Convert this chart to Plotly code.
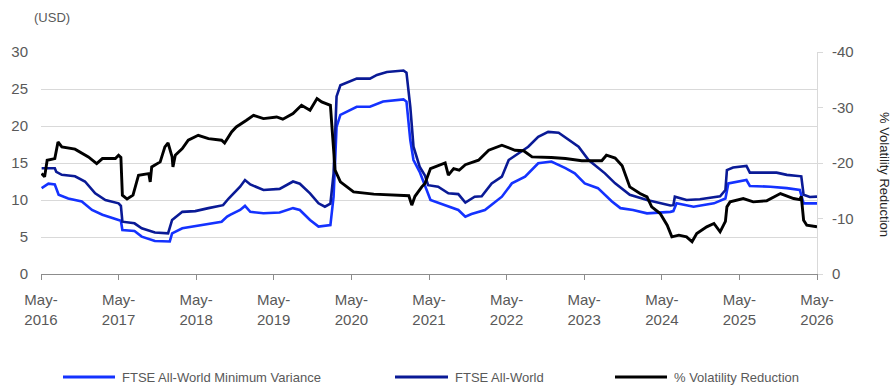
import plotly.graph_objects as go

# ---- data -------------------------------------------------------------
min_var_dates = [
    "2016-05-04", "2016-06-05", "2016-07-05", "2016-07-23", "2016-09-06", "2016-11-09",
    "2016-12-27", "2017-02-14", "2017-05-01", "2017-05-12", "2017-05-19", "2017-07-15",
    "2017-08-18", "2017-10-19", "2017-12-28", "2018-01-08", "2018-02-25", "2018-05-26",
    "2018-08-29", "2018-09-24", "2018-10-08", "2018-11-24", "2018-12-17", "2019-01-11",
    "2019-03-14", "2019-05-29", "2019-07-31", "2019-09-01", "2019-10-19", "2019-11-28",
    "2020-01-23", "2020-02-07", "2020-02-21", "2020-03-10", "2020-05-26", "2020-07-27",
    "2020-09-27", "2021-01-01", "2021-01-15", "2021-02-02", "2021-02-17", "2021-03-18",
    "2021-05-08", "2021-07-16", "2021-09-16", "2021-10-19", "2021-11-17", "2022-01-19",
    "2022-04-09", "2022-05-26", "2022-07-27", "2022-09-27", "2022-11-28", "2023-02-02",
    "2023-03-18", "2023-05-04", "2023-07-05", "2023-09-09", "2023-10-08", "2023-10-19",
    "2023-12-17", "2024-02-21", "2024-06-10", "2024-06-24", "2024-07-09", "2024-09-27",
    "2025-01-01", "2025-02-24", "2025-03-10", "2025-06-03", "2025-06-19", "2025-09-24",
    "2025-12-10", "2026-02-09", "2026-02-27", "2026-05-01",
]
min_var_values = [
    11.6, 12.2, 12.1, 10.7, 10.2, 9.8,
    8.65, 8.0, 7.3, 7.2, 5.95, 5.8,
    5.05, 4.45, 4.4, 5.5, 6.17, 6.6,
    7.07, 7.75, 8.0, 8.65, 9.2, 8.4,
    8.2, 8.3, 8.9, 8.65, 7.3, 6.4,
    6.6, 10.45, 19.9, 21.5, 22.6, 22.6,
    23.3, 23.6, 23.3, 18.1, 15.4, 13.8,
    10.0, 9.3, 8.65, 7.75, 8.1, 8.65,
    10.45, 12.25, 13.15, 14.96, 15.2, 14.3,
    13.6, 12.25, 11.6, 9.8, 9.1, 8.9,
    8.65, 8.2, 8.4, 8.5, 9.55, 9.1,
    9.55, 10.2, 12.25, 12.7, 11.9, 11.8,
    11.6, 11.35, 9.55, 9.55,
]

all_world_dates = [
    "2016-05-04", "2016-07-05", "2016-07-12", "2016-08-07", "2016-10-08", "2016-11-24",
    "2017-01-11", "2017-02-28", "2017-05-01", "2017-05-12", "2017-05-19", "2017-07-15",
    "2017-08-18", "2017-10-19", "2017-12-20", "2018-01-08", "2018-02-25", "2018-04-27",
    "2018-06-28", "2018-09-05", "2018-10-01", "2018-10-15", "2018-11-24", "2018-12-17",
    "2019-01-11", "2019-03-14", "2019-05-29", "2019-07-31", "2019-09-01", "2019-10-19",
    "2019-11-28", "2019-12-28", "2020-01-23", "2020-02-07", "2020-02-21", "2020-03-10",
    "2020-05-26", "2020-07-27", "2020-08-29", "2020-10-15", "2021-01-01", "2021-01-15",
    "2021-02-02", "2021-02-17", "2021-03-18", "2021-04-12", "2021-04-27", "2021-06-13",
    "2021-07-31", "2021-09-16", "2021-10-19", "2021-12-02", "2022-01-04", "2022-02-20",
    "2022-04-09", "2022-05-11", "2022-06-28", "2022-08-11", "2022-09-27", "2022-11-13",
    "2023-01-01", "2023-02-17", "2023-04-05", "2023-05-22", "2023-08-07", "2023-09-24",
    "2023-11-10", "2023-12-02", "2024-02-21", "2024-04-08", "2024-06-10", "2024-06-24",
    "2024-07-01", "2024-08-25", "2024-10-27", "2025-01-30", "2025-02-24", "2025-03-03",
    "2025-04-01", "2025-06-03", "2025-06-19", "2025-09-06", "2025-10-23", "2025-12-10",
    "2026-02-16", "2026-02-27", "2026-03-28", "2026-05-01",
]
all_world_values = [
    14.3, 14.3, 13.8, 13.4, 13.2, 12.5,
    10.9, 10.0, 9.55, 9.2, 7.07, 6.85,
    6.17, 5.6, 5.5, 7.3, 8.4, 8.5,
    8.9, 9.3, 10.2, 10.6, 11.8, 12.7,
    12.1, 11.35, 11.5, 12.5, 12.2, 10.9,
    9.55, 9.1, 9.5, 13.6, 24.0, 25.5,
    26.4, 26.4, 26.9, 27.3, 27.5, 27.2,
    22.6, 17.2, 14.5, 13.3, 12.0, 11.8,
    10.9, 10.8, 9.65, 10.45, 10.5, 12.25,
    13.15, 15.4, 16.3, 17.2, 18.55, 19.2,
    19.1, 18.1, 17.2, 15.4, 13.6, 12.25,
    11.2, 10.7, 10.0, 9.7, 9.25, 9.3,
    10.45, 10.0, 10.1, 10.5, 11.35, 14.05,
    14.4, 14.6, 13.7, 13.7, 13.7, 13.4,
    13.2, 10.7, 10.4, 10.45,
]

vol_red_dates = [
    "2016-05-04", "2016-05-18", "2016-05-30", "2016-07-05", "2016-07-20", "2016-08-07",
    "2016-10-08", "2016-12-10", "2017-01-18", "2017-02-14", "2017-04-16", "2017-05-01",
    "2017-05-12", "2017-05-19", "2017-06-10", "2017-07-08", "2017-08-03", "2017-09-20",
    "2017-09-27", "2017-10-04", "2017-11-13", "2017-12-05", "2017-12-20", "2018-01-08",
    "2018-01-12", "2018-01-23", "2018-02-25", "2018-03-25", "2018-05-11", "2018-06-28",
    "2018-08-29", "2018-09-12", "2018-10-15", "2018-11-06", "2018-12-24", "2019-01-26",
    "2019-03-14", "2019-05-15", "2019-06-13", "2019-07-31", "2019-09-09", "2019-10-19",
    "2019-11-21", "2019-12-13", "2020-01-23", "2020-01-30", "2020-02-14", "2020-03-10",
    "2020-05-11", "2020-08-14", "2020-12-01", "2021-01-26", "2021-02-09", "2021-02-24",
    "2021-03-28", "2021-04-12", "2021-05-08", "2021-06-13", "2021-07-16", "2021-07-31",
    "2021-08-25", "2021-09-20", "2021-10-19", "2021-12-20", "2022-02-06", "2022-04-09",
    "2022-06-10", "2022-07-20", "2022-08-29", "2022-11-28", "2023-02-02", "2023-04-20",
    "2023-07-23", "2023-08-14", "2023-09-24", "2023-10-27", "2023-11-10", "2023-12-02",
    "2024-01-19", "2024-02-21", "2024-03-14", "2024-04-23", "2024-05-26", "2024-06-17",
    "2024-07-20", "2024-08-25", "2024-09-20", "2024-10-12", "2024-11-28", "2025-01-01",
    "2025-01-30", "2025-02-24", "2025-03-03", "2025-03-18", "2025-05-19", "2025-07-05",
    "2025-09-06", "2025-11-10", "2026-01-11", "2026-02-09", "2026-02-16", "2026-02-27",
    "2026-03-14", "2026-04-08", "2026-05-01",
]
vol_red_values = [
    -18.1, -17.5, -20.5, -20.8, -23.8, -22.9,
    -22.5, -21.1, -19.9, -20.8, -20.8, -21.4,
    -21.0, -14.2, -13.5, -14.2, -17.8, -18.1,
    -16.6, -19.3, -20.2, -22.9, -23.6, -21.1,
    -19.3, -21.4, -22.6, -24.1, -25.0, -24.4,
    -24.1, -23.6, -25.6, -26.5, -27.7, -28.6,
    -28.0, -28.3, -27.9, -28.9, -30.4, -29.5,
    -31.6, -31.0, -30.4, -26.5, -18.7, -16.6,
    -14.8, -14.4, -14.2, -14.1, -12.4, -14.0,
    -15.7, -16.3, -19.0, -19.5, -20.0, -17.8,
    -19.0, -18.7, -19.7, -20.5, -22.3, -23.2,
    -22.3, -22.2, -21.1, -21.0, -20.8, -20.4,
    -20.4, -21.4, -20.9, -19.5, -18.1, -15.7,
    -14.5, -13.9, -12.1, -10.9, -8.8, -6.7,
    -7.0, -6.7, -5.8, -7.3, -8.5, -9.1,
    -7.6, -9.5, -12.1, -13.0, -13.6, -13.0,
    -13.2, -14.5, -13.6, -13.4, -14.0, -9.7,
    -8.8, -8.6, -8.5,
]

tick_dates = [f"{y}-05-01" for y in range(2016, 2027)]
tick_labels = [f"May-<br>{y}" for y in range(2016, 2027)]
right_tick_vals = [0, -10, -20, -30, -40]
right_tick_text = ["0", "-10", "-20", "-30", "-40"]

series_names = ["FTSE All-World Minimum Variance", "FTSE All-World", "% Volatility Reduction"]
series_colors = ["#1432ff", "#0a1a96", "#000000"]

# ---- layout geometry (pixels) -----------------------------------------
W, H = 893, 388
ML, MR, MT, MB = 41, 76, 52, 114
PW, PH = W - ML - MR, H - MT - MB


def px_x(px):
    return (px - ML) / PW


def px_y(py):
    return (H - MB - py) / PH


FONT = "Arial, Liberation Sans, sans-serif"
GREY = "#595959"

fig = go.Figure()
fig.add_trace(go.Scatter(x=min_var_dates, y=min_var_values, name=series_names[0],
                         mode="lines", line=dict(color=series_colors[0], width=2.6),
                         showlegend=False))
fig.add_trace(go.Scatter(x=all_world_dates, y=all_world_values, name=series_names[1],
                         mode="lines", line=dict(color=series_colors[1], width=2.6),
                         showlegend=False))
fig.add_trace(go.Scatter(x=vol_red_dates, y=vol_red_values, name=series_names[2],
                         mode="lines", line=dict(color=series_colors[2], width=2.9),
                         yaxis="y2", showlegend=False))

fig.update_layout(
    width=W, height=H,
    margin=dict(l=ML, r=MR, t=MT, b=MB),
    paper_bgcolor="white", plot_bgcolor="white",
    font=dict(family=FONT, color=GREY, size=15),
    xaxis=dict(
        type="date", range=["2016-05-01", "2026-05-01"],
        tickvals=tick_dates, ticktext=tick_labels,
        showgrid=False, zeroline=False,
        showline=True, linecolor="#8c8c8c", linewidth=1,
        ticks="outside", ticklen=5, tickcolor="#8c8c8c",
        ticklabelstandoff=7,
        tickfont=dict(size=15, color=GREY),
    ),
    yaxis=dict(
        range=[0, 30], dtick=5, tick0=0,
        showgrid=True, gridcolor="#d9d9d9", gridwidth=1,
        zeroline=False, showline=False,
        ticks="", ticklabelstandoff=12,
        tickfont=dict(size=15, color=GREY),
    ),
    yaxis2=dict(
        overlaying="y", side="right", range=[0, -40],
        tickvals=right_tick_vals, ticktext=right_tick_text,
        showgrid=False, zeroline=False,
        showline=True, linecolor="#d9d9d9", linewidth=1,
        ticks="outside", ticklen=5, tickcolor="#d9d9d9",
        ticklabelstandoff=6,
        tickfont=dict(size=15, color=GREY),
    ),
    showlegend=False,
)

annotations = [
    dict(text="(USD)", x=px_x(32), y=px_y(17), xref="paper", yref="paper",
         xanchor="left", yanchor="middle", showarrow=False,
         font=dict(size=13, color=GREY)),
    dict(text="% Volatility Reduction", x=px_x(885), y=px_y(175), xref="paper", yref="paper",
         xanchor="center", yanchor="middle", textangle=90, showarrow=False,
         font=dict(size=13, color="#262626")),
]

# legend drawn as line swatches plus labels under the plot
legend_rows = [(63, 115, 120), (395, 448, 453), (615, 667, 672)]
legend_y = 377
shapes = []
for (x0, x1, tx), name, color in zip(legend_rows, series_names, series_colors):
    shapes.append(dict(type="line", xref="paper", yref="paper",
                       x0=px_x(x0), x1=px_x(x1), y0=px_y(legend_y), y1=px_y(legend_y),
                       line=dict(color=color, width=3)))
    annotations.append(dict(text=name, x=px_x(tx), y=px_y(legend_y), xref="paper", yref="paper",
                            xanchor="left", yanchor="middle", showarrow=False,
                            font=dict(size=13, color=GREY)))

fig.update_layout(annotations=annotations, shapes=shapes)

fig.write_html("out.html")
